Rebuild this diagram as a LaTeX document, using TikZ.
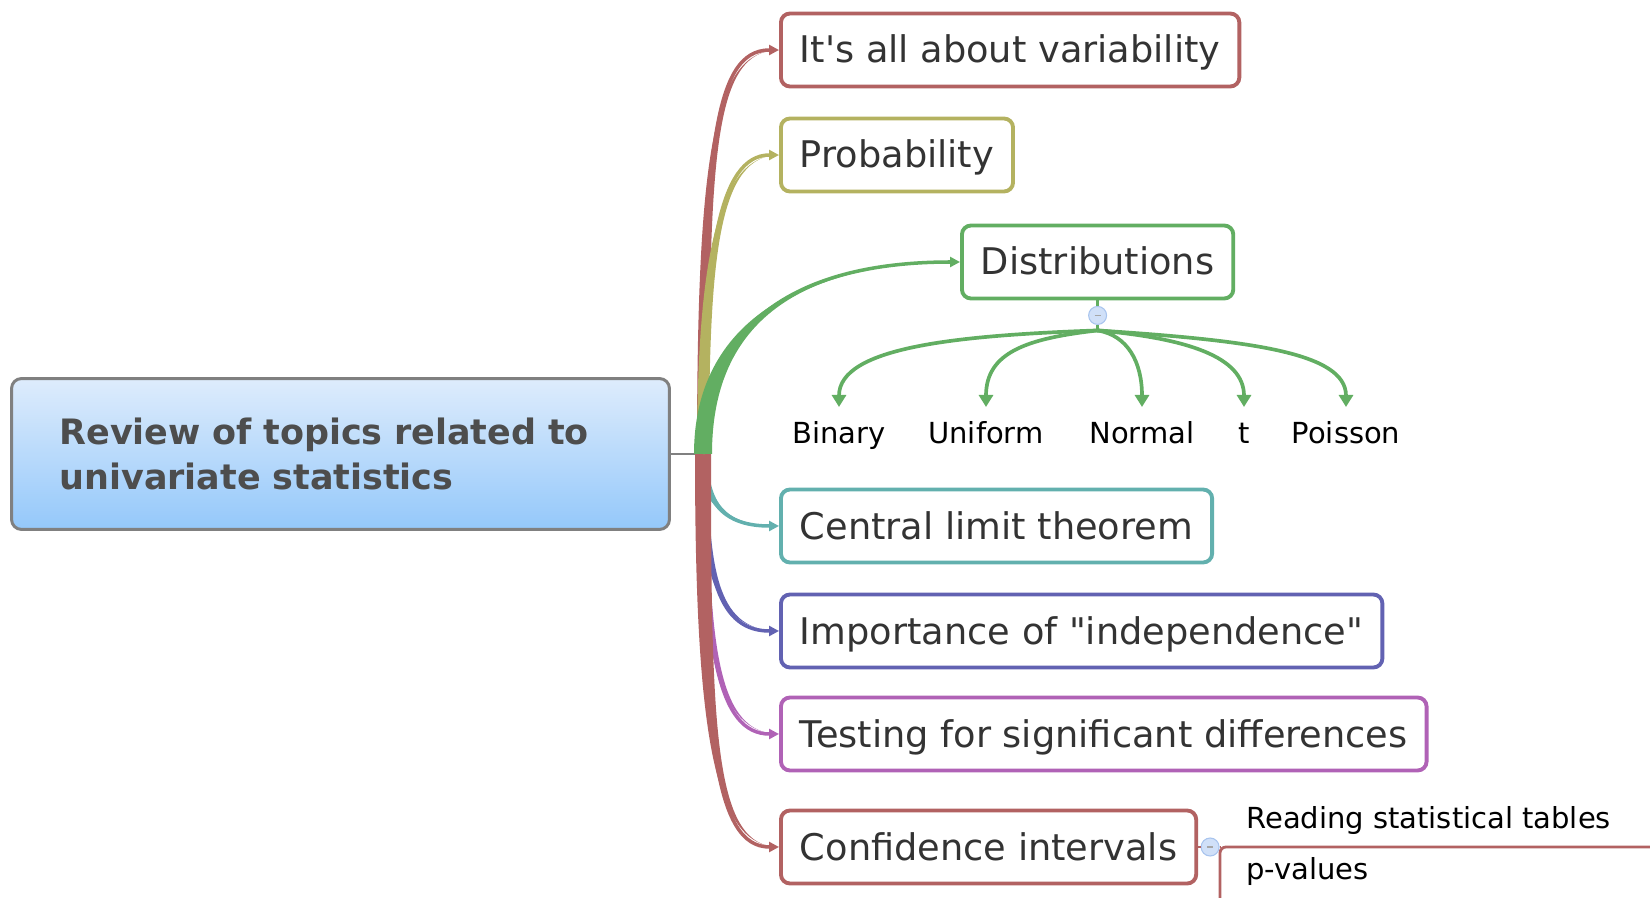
\documentclass[tikz,border=0pt]{standalone}
\usepackage{fontspec}
\setmainfont{DejaVu Sans}
\usetikzlibrary{arrows.meta, calc}

\definecolor{redb}{RGB}{178,98,98}
\definecolor{oliveb}{RGB}{180,178,96}
\definecolor{greenb}{RGB}{98,174,98}
\definecolor{tealb}{RGB}{98,176,174}
\definecolor{blueb}{RGB}{98,98,178}
\definecolor{purpleb}{RGB}{176,98,182}
\definecolor{roottop}{RGB}{222,236,252}
\definecolor{rootbot}{RGB}{148,200,250}
\definecolor{rootline}{RGB}{128,128,128}
\definecolor{roottext}{RGB}{77,77,77}
\definecolor{boxtext}{RGB}{51,51,51}
\definecolor{dotfill}{RGB}{208,224,248}
\definecolor{dotborder}{RGB}{168,196,238}

\begin{document}
\begin{tikzpicture}[x=0.02cm, y=0.02cm]
    % --- Style Definitions ---
    \tikzset{
        root style/.style={
            draw=rootline,
            line width=1.7pt,
            rounded corners=0.2cm,
            top color=roottop,
            bottom color=rootbot,
            minimum width=13.16cm,
            minimum height=3.02cm,
            text width=11.24cm,
            align=left,
            inner xsep=0.96cm,
            text=roottext,
            font=\fontsize{19.9pt}{25.6pt}\selectfont\bfseries
        },
        topic style/.style={
            draw=#1,
            line width=2.2pt,
            rounded corners=0.18cm,
            fill=white,
            anchor=west,
            minimum height=1.46cm,
            inner xsep=0.38cm,
            inner ysep=0pt,
            text=boxtext,
            text height=19.5pt,
            text depth=4.7pt,
            font=\fontsize{20.9pt}{25pt}\selectfont
        },
        leaf text/.style={
            anchor=base,
            inner sep=0pt,
            outer ysep=8.5pt,
            text height=12pt,
            text depth=3.5pt,
            font=\fontsize{16.5pt}{20pt}\selectfont
        },
        sub text/.style={
            anchor=base west,
            inner sep=0pt,
            font=\fontsize{16.5pt}{20pt}\selectfont
        },
        branch/.style={
            draw=#1,
            line width=2pt,
            -{Triangle[length=0.2cm, width=0.2cm]}
        },
        fork arrow/.style={
            draw=greenb,
            line width=2.1pt,
            -{Triangle[length=0.24cm, width=0.28cm]}
        },
        fork line/.style={draw=greenb, line width=2pt},
        sub line/.style={draw=redb, line width=1.6pt},
        collapse dot/.style={
            circle,
            draw=dotborder,
            fill=dotfill,
            line width=0.6pt,
            minimum size=0.36cm,
            inner sep=0pt
        },
        dot mark/.style={draw=black!35, line width=0.6pt}
    }

    \useasboundingbox (0,0) rectangle (1650,-898);

    % ==========================================
    % ROOT
    % ==========================================
    \node[root style] (root) at (340.5,-454) {Review of topics related to\\univariate statistics};
    \coordinate (trunk) at (703,-454);
    \draw[draw=rootline, line width=1.5pt] (root.east) -- (trunk);

    % ==========================================
    % TOPICS
    % ==========================================
    \node[topic style=redb] (var) at (779,-50) {It\textquotesingle s all about variability};
    \node[topic style=oliveb] (prob) at (779,-155) {Probability};
    \node[topic style=greenb] (dist) at (960,-262) {Distributions};
    \node[topic style=tealb] (clt) at (779,-526) {Central limit theorem};
    \node[topic style=blueb] (indep) at (779,-631) {Importance of \textquotedbl independence\textquotedbl};
    \node[topic style=purpleb] (test) at (779,-734) {Testing for significant differences};
    \node[topic style=redb] (ci) at (779,-847) {Confidence intervals};

    % ==========================================
    % BRANCHES (tapered)
    % ==========================================
    % lower half
    \fill[tealb] ($(trunk)+(-5,0)$) .. controls ($(trunk)+(-5,-50)$) and ($(clt.west)+(-54,0)$) .. (clt.west)
        .. controls ($(clt.west)+(-54,0)$) and ($(trunk)+(5,-50)$) .. ($(trunk)+(5,0)$) -- cycle;
    \draw[branch=tealb] (trunk) .. controls +(0,-50) and +(-54,0) .. (clt.west);

    \fill[blueb] ($(trunk)+(-5,0)$) .. controls ($(trunk)+(-5,-125)$) and ($(indep.west)+(-59,0)$) .. (indep.west)
        .. controls ($(indep.west)+(-59,0)$) and ($(trunk)+(5,-125)$) .. ($(trunk)+(5,0)$) -- cycle;
    \draw[branch=blueb] (trunk) .. controls +(0,-125) and +(-59,0) .. (indep.west);

    \fill[purpleb] ($(trunk)+(-5,0)$) .. controls ($(trunk)+(-5,-195)$) and ($(test.west)+(-61,0)$) .. (test.west)
        .. controls ($(test.west)+(-61,0)$) and ($(trunk)+(5,-195)$) .. ($(trunk)+(5,0)$) -- cycle;
    \draw[branch=purpleb] (trunk) .. controls +(0,-195) and +(-61,0) .. (test.west);

    \fill[redb] ($(trunk)+(-8,0)$) .. controls ($(trunk)+(-8,-285)$) and ($(ci.west)+(-64,0)$) .. (ci.west)
        .. controls ($(ci.west)+(-64,0)$) and ($(trunk)+(8,-285)$) .. ($(trunk)+(8,0)$) -- cycle;
    \draw[branch=redb] (trunk) .. controls +(0,-285) and +(-64,0) .. (ci.west);

    % upper half
    \fill[redb] ($(trunk)+(-6,0)$) .. controls ($(trunk)+(-6,300)$) and ($(var.west)+(-66,0)$) .. (var.west)
        .. controls ($(var.west)+(-66,0)$) and ($(trunk)+(6,300)$) .. ($(trunk)+(6,0)$) -- cycle;
    \draw[branch=redb] (trunk) .. controls +(0,300) and +(-66,0) .. (var.west);

    \fill[oliveb] ($(trunk)+(-6,0)$) .. controls ($(trunk)+(-6,200)$) and ($(prob.west)+(-60,0)$) .. (prob.west)
        .. controls ($(prob.west)+(-60,0)$) and ($(trunk)+(6,200)$) .. ($(trunk)+(6,0)$) -- cycle;
    \draw[branch=oliveb] (trunk) .. controls +(0,200) and +(-60,0) .. (prob.west);

    \fill[greenb] ($(trunk)+(-9,0)$) .. controls ($(trunk)+(-9,125)$) and ($(dist.west)+(-170,0)$) .. (dist.west)
        .. controls ($(dist.west)+(-170,0)$) and ($(trunk)+(9,125)$) .. ($(trunk)+(9,0)$) -- cycle;
    \draw[branch=greenb] (trunk) .. controls +(0,125) and +(-170,0) .. (dist.west);

    % ==========================================
    % DISTRIBUTIONS: leaves
    % ==========================================
    \node[collapse dot] (distdot) at ($(dist.south)+(0,-15)$) {};
    \draw[dot mark] ($(distdot.center)+(-3,0)$) -- ($(distdot.center)+(3,0)$);
    \coordinate (distfork) at ($(distdot.center)+(0,-15)$);
    \draw[fork line] (dist.south) -- (distdot.north);
    \draw[fork line] (distdot.south) -- (distfork);

    \node[leaf text] (binary) at (839,-443) {Binary};
    \node[leaf text] (uniform) at (986,-443) {Uniform};
    \node[leaf text] (normal) at (1142,-443) {Normal};
    \node[leaf text] (tdist) at (1244,-443) {t};
    \node[leaf text] (poisson) at (1346,-443) {Poisson};

    \draw[fork arrow] (distfork) .. controls +(-140,-5) and +(0,60) .. (binary.north);
    \draw[fork arrow] (distfork) .. controls +(-70,-8) and +(0,55) .. (uniform.north);
    \draw[fork arrow] (distfork) .. controls +(30,-5) and +(0,45) .. (normal.north);
    \draw[fork arrow] (distfork) .. controls +(90,-8) and +(0,50) .. (tdist.north);
    \draw[fork arrow] (distfork) .. controls +(150,-10) and +(0,55) .. (poisson.north);

    % ==========================================
    % CONFIDENCE INTERVALS: sub topics
    % ==========================================
    \node[collapse dot] (cidot) at ($(ci.east)+(12,0)$) {};
    \draw[dot mark] ($(cidot.center)+(-3,0)$) -- ($(cidot.center)+(3,0)$);
    \coordinate (cicorner) at (1220,-847);
    \coordinate (ciend) at (1650,-847);
    \coordinate (cibottom) at (1220,-898);
    \draw[sub line] (ci.east) -- (cidot.west);
    \draw[sub line] (cidot.east) -- (cicorner);
    \draw[sub line, rounded corners=0.12cm] (ciend) -- (cicorner) -- (cibottom);

    \node[sub text] (tables) at (1246,-828) {Reading statistical tables};
    \node[sub text] (pvalues) at (1246,-879) {p-values};

\end{tikzpicture}
\end{document}
